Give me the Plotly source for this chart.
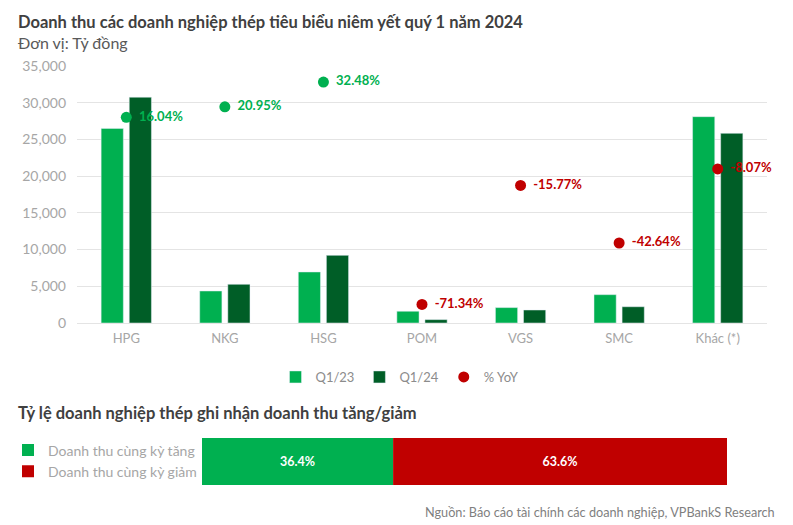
import plotly.graph_objects as go

# ---------------- data ----------------
companies = ["HPG", "NKG", "HSG", "POM", "VGS", "SMC", "Khác (*)"]
rev_q1_23 = [26500, 4360, 6950, 1600, 2100, 3860, 28100]
rev_q1_24 = [30750, 5273, 9210, 459, 1770, 2215, 25830]
yoy_pct = [16.04, 20.95, 32.48, -71.34, -15.77, -42.64, -8.07]

share_labels = ["Doanh thu cùng kỳ tăng", "Doanh thu cùng kỳ giảm"]
share_values = [36.4, 63.6]

# ---------------- style ----------------
FONT = "Lato"
C_LIGHT = "#00B050"
C_DARK = "#005E27"
C_RED = "#C00000"
GRID = "#E4E4E4"
OFF = 8                      # page body margin
W, H = 793 - OFF, 525 - OFF
ML = 77 - OFF                # plot area left edge (page px 77)
MR = W - (767 - OFF)         # plot area right edge (page px 767)
PW = W - ML - MR


def px_x(p):
    """page pixel x -> paper fraction"""
    return (p - OFF - ML) / PW


def px_y(p):
    """page pixel y -> paper fraction"""
    return 1 - (p - OFF) / H


fig = go.Figure()

fig.add_trace(go.Bar(x=companies, y=rev_q1_23, name="Q1/23", marker_color=C_LIGHT,
                     legend="legend"))
fig.add_trace(go.Bar(x=companies, y=rev_q1_24, name="Q1/24", marker_color=C_DARK,
                     legend="legend"))

pos_x = [c for c, v in zip(companies, yoy_pct) if v >= 0]
pos_v = [v for v in yoy_pct if v >= 0]
neg_x = [c for c, v in zip(companies, yoy_pct) if v < 0]
neg_v = [v for v in yoy_pct if v < 0]

PAD = "\u00a0\u2009"
fig.add_trace(go.Scatter(x=pos_x, y=pos_v, yaxis="y2", mode="markers+text",
                         marker=dict(color=C_LIGHT, size=11),
                         text=[f"{PAD}{v:.2f}%" for v in pos_v], textposition="middle right",
                         textfont=dict(color=C_LIGHT, size=13, family=FONT, weight="bold"),
                         cliponaxis=False, showlegend=False, name="% YoY"))
fig.add_trace(go.Scatter(x=neg_x, y=neg_v, yaxis="y2", mode="markers+text",
                         marker=dict(color=C_RED, size=11),
                         text=[f"{PAD}{v:.2f}%" for v in neg_v], textposition="middle right",
                         textfont=dict(color=C_RED, size=13, family=FONT, weight="bold"),
                         cliponaxis=False, name="% YoY", legend="legend"))

# share bar (bottom)
share_colors = [C_LIGHT, C_RED]
base = 0
for lab, val, col in zip(share_labels, share_values, share_colors):
    fig.add_trace(go.Bar(y=[0], x=[val], base=[base], orientation="h", name=lab,
                         marker=dict(color=col, line=dict(width=0)),
                         xaxis="x2", yaxis="y3", width=1, offset=-0.5,
                         text=[f"{val:.1f}%"], textposition="inside",
                         insidetextanchor="middle",
                         textfont=dict(color="white", size=12.5, family=FONT, weight="bold"),
                         legend="legend2"))
    base += val

fig.update_layout(
    width=W, height=H,
    margin=dict(l=ML, r=MR, t=0, b=0, autoexpand=False),
    paper_bgcolor="white", plot_bgcolor="white",
    font=dict(family=FONT, color="#A6A6A6", size=13),
    barmode="group", bargap=0.43, bargroupgap=0.21,
    xaxis=dict(domain=[0, 1], anchor="y", showgrid=False, showline=False, ticks="",
               tickfont=dict(size=13, color="#A6A6A6"), ticklabelstandoff=6),
    yaxis=dict(domain=[px_y(323), px_y(66)], range=[0, 35000], dtick=5000,
               tickformat=",", showgrid=True, gridcolor=GRID, gridwidth=1,
               zeroline=True, zerolinecolor=GRID, zerolinewidth=1, showline=False,
               tickfont=dict(size=14, color="#A6A6A6"), ticklabelstandoff=10),
    yaxis2=dict(overlaying="y", range=[-80, 40], visible=False),
    xaxis2=dict(domain=[px_x(202), px_x(727)], anchor="y3", range=[0, 100], visible=False),
    yaxis3=dict(domain=[px_y(485), px_y(438)], anchor="x2", range=[-0.5, 0.5], visible=False),
    legend=dict(orientation="h", x=px_x(400), xanchor="center", y=px_y(377), yanchor="middle",
                font=dict(size=13, color="#8C8C8C"), itemwidth=30, bgcolor="rgba(0,0,0,0)"),
    legend2=dict(orientation="v", xref="container", x=0.0, xanchor="left",
                 y=px_y(461), yanchor="middle",
                 font=dict(size=14, color="#A6A6A6"), itemwidth=30, bgcolor="rgba(0,0,0,0)",
                 tracegroupgap=0),
    showlegend=True,
)

annotations = [
    dict(text="<b>Doanh thu các doanh nghiệp thép tiêu biểu niêm yết quý 1 năm 2024</b>",
         x=px_x(16), y=px_y(22), font=dict(size=16.5, color="#404040")),
    dict(text="Đơn vị: Tỷ đồng", x=px_x(16), y=px_y(43), font=dict(size=16, color="#595959")),
    dict(text="<b>Tỷ lệ doanh nghiệp thép ghi nhận doanh thu tăng/giảm</b>",
         x=px_x(16), y=px_y(413), font=dict(size=16.5, color="#404040")),
]
for a in annotations:
    fig.add_annotation(xref="paper", yref="paper", xanchor="left", yanchor="middle",
                       showarrow=False, **a)
fig.add_annotation(text="Nguồn: Báo cáo tài chính các doanh nghiệp, VPBankS Research",
                   xref="paper", yref="paper", x=px_x(777), y=px_y(512),
                   xanchor="right", yanchor="middle", showarrow=False,
                   font=dict(size=12.7, color="#7F7F7F"))

fig.write_html("out.html")
